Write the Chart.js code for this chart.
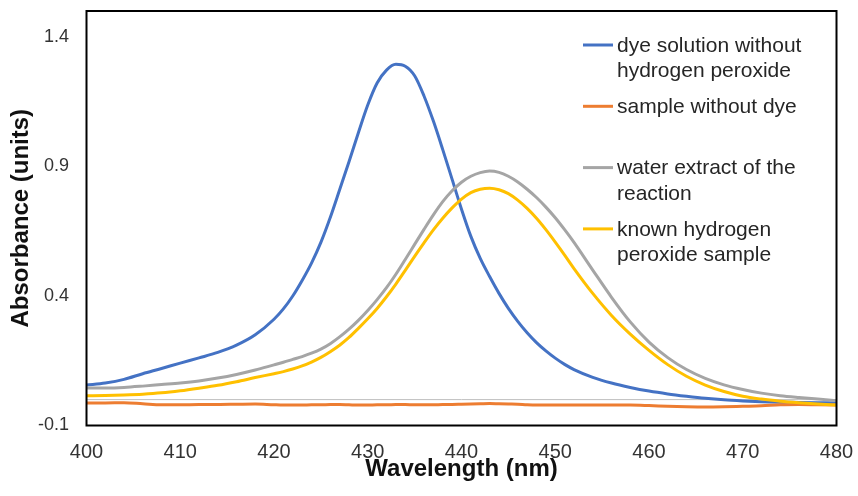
<!DOCTYPE html>
<html>
<head>
<meta charset="utf-8">
<script src="https://cdn.jsdelivr.net/npm/chart.js@4.4.0/dist/chart.umd.min.js"></script>
<style>
  body { margin: 0; background: #fff; }
</style>
</head>
<body>
<canvas id="chart" width="858" height="496"></canvas>
<script>
// wavelength grid (nm): 2 nm steps on the tails, 1 nm around the peaks
const wavelengths = [
  400, 402, 404, 406, 408, 410, 412, 414, 416, 418, 420,
  421, 422, 423, 424, 425, 426, 427, 428, 429, 430,
  431, 432, 433, 434, 435, 436, 437, 438, 439, 440,
  441, 442, 443, 444, 445, 446, 447, 448, 449, 450, 451, 452,
  454, 456, 458, 460, 462, 464, 466, 468, 470, 472, 474, 476, 478, 480
];

const dyeNoPeroxide = [
  0.056, 0.064, 0.078, 0.100, 0.120, 0.141, 0.161, 0.182, 0.210, 0.250, 0.310,
  0.350, 0.400, 0.460, 0.527, 0.607, 0.703, 0.810, 0.918, 1.030, 1.137,
  1.222, 1.272, 1.294, 1.287, 1.250, 1.172, 1.075, 0.965, 0.850, 0.735,
  0.630, 0.545, 0.475, 0.410, 0.352, 0.302, 0.258, 0.220, 0.188, 0.160, 0.136, 0.116,
  0.086, 0.064, 0.047, 0.033, 0.022, 0.013, 0.005, -0.001, -0.005, -0.008, -0.010, -0.011, -0.012, -0.013
];

const sampleNoDye = [
  -0.013, -0.013, -0.012, -0.016, -0.020, -0.020, -0.019, -0.019, -0.018, -0.017, -0.020,
  -0.021, -0.021, -0.021, -0.020, -0.020, -0.019, -0.019, -0.020, -0.021, -0.021,
  -0.020, -0.020, -0.019, -0.019, -0.020, -0.020, -0.020, -0.019, -0.019, -0.018,
  -0.017, -0.016, -0.015, -0.016, -0.017, -0.018, -0.020, -0.021, -0.021, -0.021, -0.021, -0.021,
  -0.021, -0.021, -0.021, -0.023, -0.026, -0.028, -0.029, -0.028, -0.026, -0.024, -0.020, -0.019, -0.020, -0.021
];

const waterExtract = [
  0.045, 0.045, 0.047, 0.052, 0.058, 0.064, 0.072, 0.083, 0.097, 0.114, 0.134,
  0.144, 0.155, 0.166, 0.179, 0.195, 0.216, 0.242, 0.272, 0.306, 0.344,
  0.386, 0.432, 0.484, 0.541, 0.599, 0.657, 0.713, 0.764, 0.806, 0.839,
  0.862, 0.876, 0.882, 0.877, 0.862, 0.840, 0.812, 0.780, 0.743, 0.702, 0.656, 0.607,
  0.500, 0.395, 0.300, 0.222, 0.162, 0.116, 0.082, 0.057, 0.039, 0.025, 0.015, 0.008, 0.002, -0.004
];

const knownPeroxide = [
  0.015, 0.016, 0.018, 0.021, 0.026, 0.034, 0.044, 0.055, 0.069, 0.085, 0.100,
  0.108, 0.118, 0.130, 0.145, 0.163, 0.185, 0.210, 0.240, 0.275, 0.312,
  0.352, 0.397, 0.446, 0.499, 0.553, 0.605, 0.655, 0.700, 0.740, 0.774,
  0.799, 0.812, 0.816, 0.810, 0.795, 0.770, 0.738, 0.700, 0.656, 0.608, 0.558, 0.506,
  0.410, 0.325, 0.253, 0.190, 0.135, 0.090, 0.056, 0.031, 0.013, 0.002, -0.006, -0.012, -0.017, -0.021
];

const xTicks = [400, 410, 420, 430, 440, 450, 460, 470, 480];
const yTicks = [-0.1, 0.4, 0.9, 1.4];

const legendLabels = [
  ['dye solution without', 'hydrogen peroxide'],
  ['sample without dye'],
  ['water extract of the', 'reaction'],
  ['known hydrogen', 'peroxide sample']
];
const colors = ['#4472C4', '#ED7D31', '#A5A5A5', '#FFC000'];

const FONT = "'Liberation Sans', Arial, sans-serif";

const toPoints = vals => vals.map((v, i) => ({ x: wavelengths[i], y: v }));

// thin grey line at y = 0 and the black box round the plot
const framePlugin = {
  id: 'frame',
  beforeDatasetsDraw(chart) {
    const { ctx, chartArea, scales } = chart;
    const y0 = scales.y.getPixelForValue(0);
    ctx.save();
    ctx.strokeStyle = '#bfbfbf';
    ctx.lineWidth = 1;
    ctx.beginPath();
    ctx.moveTo(chartArea.left, y0);
    ctx.lineTo(chartArea.right, y0);
    ctx.stroke();
    ctx.restore();
  },
  afterDraw(chart) {
    const { ctx, chartArea } = chart;
    ctx.save();
    ctx.strokeStyle = '#000';
    ctx.lineWidth = 2;
    ctx.strokeRect(chartArea.left, chartArea.top,
      chartArea.right - chartArea.left, chartArea.bottom - chartArea.top);
    ctx.restore();
  }
};

// legend inside the plot, with wrapped labels
const legendPlugin = {
  id: 'wrapLegend',
  afterDraw(chart) {
    const { ctx, chartArea } = chart;
    const x0 = chartArea.right - 253.5;
    let y = chartArea.top + 34;
    ctx.save();
    ctx.font = '21px ' + FONT;
    ctx.textBaseline = 'middle';
    ctx.textAlign = 'left';
    legendLabels.forEach((lines, i) => {
      ctx.strokeStyle = colors[i];
      ctx.lineWidth = 3;
      ctx.beginPath();
      ctx.moveTo(x0, y);
      ctx.lineTo(x0 + 30, y);
      ctx.stroke();
      ctx.fillStyle = '#262626';
      lines.forEach((t, j) => ctx.fillText(t, x0 + 34, y + 1 + j * 25.5));
      y += 61.3;
    });
    ctx.restore();
  }
};

const series = [dyeNoPeroxide, sampleNoDye, waterExtract, knownPeroxide];

new Chart(document.getElementById('chart'), {
  type: 'line',
  data: {
    datasets: series.map((vals, i) => ({
      label: legendLabels[i].join(' '),
      data: toPoints(vals),
      borderColor: colors[i],
      borderWidth: 3,
      pointRadius: 0,
      cubicInterpolationMode: 'monotone',
      fill: false,
      order: 3 - i
    }))
  },
  options: {
    responsive: false,
    animation: false,
    layout: { padding: { top: 11, right: 21.5, left: 0, bottom: 0 } },
    plugins: {
      legend: { display: false },
      tooltip: { enabled: false }
    },
    scales: {
      x: {
        type: 'linear',
        min: 400,
        max: 480,
        afterBuildTicks: s => { s.ticks = xTicks.map(v => ({ value: v })); },
        afterFit: s => { s.height = 70.5; s.paddingLeft = 0; s.paddingRight = 0; },
        grid: { display: false, drawTicks: false },
        border: { display: false },
        ticks: {
          padding: 14.5,
          color: '#333',
          maxRotation: 0,
          autoSkip: false,
          font: { family: FONT, size: 20 },
          callback: v => String(v)
        },
        title: {
          display: true,
          text: 'Wavelength (nm)',
          color: '#111',
          font: { family: FONT, size: 24, weight: 'bold' },
          padding: { top: 0, bottom: 12 }
        }
      },
      y: {
        min: -0.1,
        max: 1.5,
        afterBuildTicks: s => { s.ticks = yTicks.map(v => ({ value: v })); },
        afterFit: s => { s.width = 86.5; s.paddingTop = 0; s.paddingBottom = 0; },
        grid: { display: false, drawTicks: false },
        border: { display: false },
        ticks: {
          padding: 17.5,
          color: '#333',
          font: { family: FONT, size: 18 },
          callback: v => v.toFixed(1)
        },
        title: {
          display: true,
          text: 'Absorbance (units)',
          color: '#111',
          font: { family: FONT, size: 24, weight: 'bold' },
          padding: { top: 7, bottom: 0 }
        }
      }
    }
  },
  plugins: [framePlugin, legendPlugin]
});
</script>
</body>
</html>
